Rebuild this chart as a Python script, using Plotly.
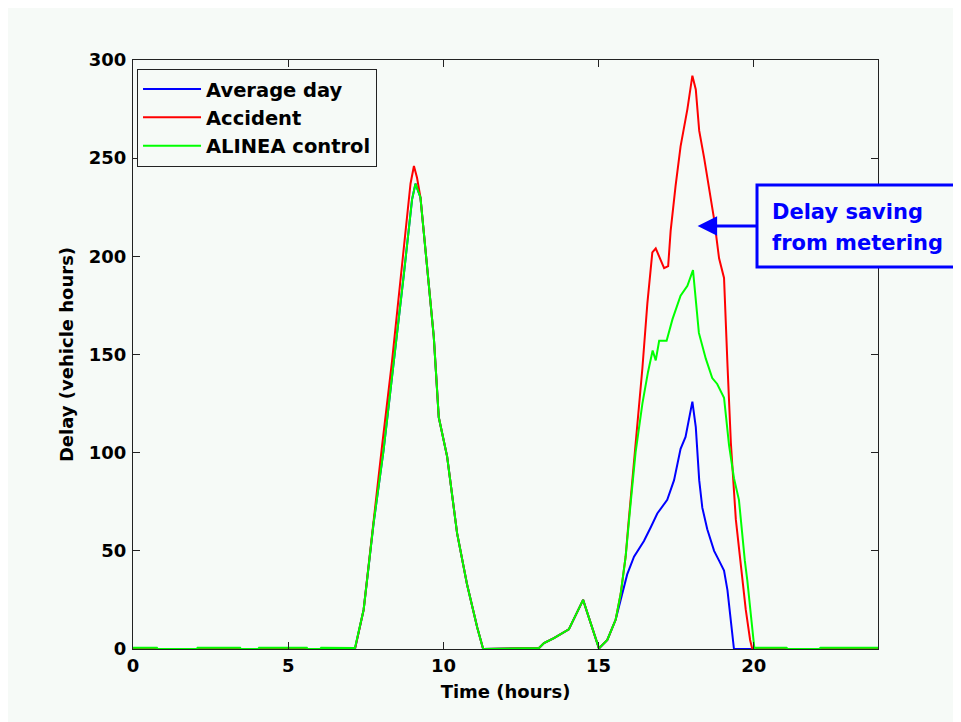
import plotly.graph_objects as go

# ---------------- data ----------------
green_t = [0, 0.77, 0.8, 2.05, 2.08, 3.45, 3.48, 4.03, 4.06, 5.6, 5.63, 6.03, 6.06, 7.15,
           7.43, 7.75, 8.07, 8.40, 8.72, 8.99, 9.10, 9.26, 9.47, 9.69, 9.85, 10.12, 10.44,
           10.76, 11.09, 11.28, 13.08, 13.24, 13.56, 14.04, 14.50, 15.01, 15.28, 15.55,
           15.71, 15.87, 16.03, 16.19, 16.41, 16.59, 16.74, 16.84, 16.95, 17.19, 17.38,
           17.64, 17.86, 18.04, 18.23, 18.45, 18.66, 18.82, 19.04, 19.20, 19.36, 19.52,
           19.71, 19.79, 19.90, 20.02, 20.06, 21.05, 21.1, 22.1, 22.15, 24]
green_v = [0.6, 0.6, 0, 0, 0.6, 0.6, 0, 0, 0.6, 0.6, 0, 0, 0.6, 0.5,
           20, 64, 101, 145, 190, 229, 237, 230, 196, 159, 118, 98, 59,
           33, 11, 0, 0.5, 3, 5.5, 10, 25, 0.3, 4.6, 15,
           28, 47, 74, 100, 125, 141, 152, 147, 157, 157, 168,
           180, 185, 193, 161, 148, 138, 135, 128, 104, 87, 76,
           45, 35, 18, 0, 0.6, 0.6, 0, 0, 0.6, 0.6]

red_t = [0, 7.15, 7.43, 7.75, 8.02, 8.34, 8.67, 8.94, 9.05, 9.15, 9.26, 9.47, 9.69, 9.85,
         10.12, 10.44, 10.76, 11.09, 11.28, 13.08, 13.24, 13.56, 14.04, 14.50, 15.01,
         15.28, 15.55, 15.71, 15.87, 15.95, 16.09, 16.25, 16.41, 16.57, 16.73, 16.84,
         16.95, 17.11, 17.24, 17.32, 17.48, 17.64, 17.86, 18.02, 18.13, 18.24, 18.40,
         18.56, 18.72, 18.88, 19.04, 19.15, 19.26, 19.42, 19.56, 19.63, 19.74, 19.88,
         19.95, 24]
red_v = [0, 0, 20, 66, 103, 146, 196, 237, 246, 240, 230, 196, 159, 118,
         98, 59, 33, 11, 0, 0.5, 3, 5.5, 10, 25, 0.3,
         4.6, 15, 28, 47, 62, 86, 113, 143, 176, 202, 204,
         200, 194, 195, 213, 236, 256, 275, 292, 285, 264, 250,
         234, 219, 199, 189, 145, 105, 66, 45, 35, 20, 4.6,
         0, 0]

blue_t = [0, 7.15, 7.43, 7.75, 8.07, 8.40, 8.72, 8.99, 9.10, 9.26, 9.47, 9.69, 9.85,
          10.12, 10.44, 10.76, 11.09, 11.28, 13.08, 13.24, 13.56, 14.04, 14.50, 15.01,
          15.28, 15.55, 15.71, 15.92, 16.14, 16.46, 16.68, 16.89, 17.21, 17.43, 17.64,
          17.80, 18.02, 18.13, 18.24, 18.34, 18.50, 18.72, 18.88, 19.04, 19.15, 19.26,
          19.36, 24]
blue_v = [0, 0, 20, 64, 101, 145, 190, 229, 237, 230, 196, 159, 118,
          98, 59, 33, 11, 0, 0.5, 3, 5.5, 10, 25, 0.3,
          4.6, 15, 25, 38, 47, 55, 62, 69, 76, 86, 102,
          108, 126, 113, 86, 72, 61, 50, 45, 40, 30, 15,
          0, 0]

series_names = ["Average day", "Accident", "ALINEA control"]
x_ticks = [0, 5, 10, 15, 20]
y_ticks = [0, 50, 100, 150, 200, 250, 300]
note_lines = ["Delay saving", "from metering"]
arrow_tip = (18.19, 215.5)

# ---------------- styling ----------------
BG = "#f6faf7"
FONT = "DejaVu Sans"
BLUE = "#0000ff"

fig = go.Figure()
fig.add_trace(go.Scatter(x=blue_t, y=blue_v, mode="lines", name=series_names[0],
                         line=dict(color="#0000ff", width=2)))
fig.add_trace(go.Scatter(x=red_t, y=red_v, mode="lines", name=series_names[1],
                         line=dict(color="#ff0000", width=2)))
fig.add_trace(go.Scatter(x=green_t, y=green_v, mode="lines", name=series_names[2],
                         line=dict(color="#00ff00", width=2)))

axis_common = dict(
    showgrid=False, zeroline=False, showline=True, linecolor="#222222", linewidth=1,
    mirror="ticks", ticks="inside", ticklen=7, tickcolor="#222222", tickwidth=1,
    tickfont=dict(family=FONT, size=18, color="#000000", weight="bold"),
)

fig.update_layout(
    width=961, height=722,
    margin=dict(l=125, r=91, t=52, b=81, autoexpand=False),
    paper_bgcolor=BG, plot_bgcolor=BG,
    xaxis=dict(range=[0, 24], tickvals=x_ticks, ticktext=[str(v) for v in x_ticks],
               title=dict(text="Time (hours)", standoff=10,
                          font=dict(family=FONT, size=18, color="#000000", weight="bold")),
               **axis_common),
    yaxis=dict(range=[0, 300], tickvals=y_ticks, ticktext=[str(v) for v in y_ticks],
               ticklabelstandoff=2,
               title=dict(text="Delay (vehicle hours)", standoff=10,
                          font=dict(family=FONT, size=18, color="#000000", weight="bold")),
               **axis_common),
    legend=dict(x=0.0054, y=0.985, xanchor="left", yanchor="top",
                bgcolor=BG, bordercolor="#222222", borderwidth=1,
                font=dict(family=FONT, size=19.5, color="#000000", weight="bold"),
                itemwidth=58),
    showlegend=True,
)

# callout box
fig.add_shape(type="rect", xref="paper", yref="paper",
              x0=0.8376, x1=1.1034, y0=0.6486, y1=0.7878,
              line=dict(color=BLUE, width=3), fillcolor=BG, layer="above")
for txt, yp in zip(note_lines, [0.7419, 0.6893]):
    fig.add_annotation(x=0.855, y=yp, xref="paper", yref="paper", xanchor="left",
                       yanchor="middle", text=txt, showarrow=False,
                       font=dict(family=FONT, size=21, color=BLUE, weight="bold"))
# arrow from box edge to the accident curve
fig.add_annotation(x=arrow_tip[0], y=arrow_tip[1], xref="x", yref="y",
                   ax=60, ay=0, axref="pixel", ayref="pixel", text="",
                   showarrow=True, arrowhead=2, arrowsize=1.3, arrowwidth=3,
                   arrowcolor=BLUE)

fig.write_html("out.html")
